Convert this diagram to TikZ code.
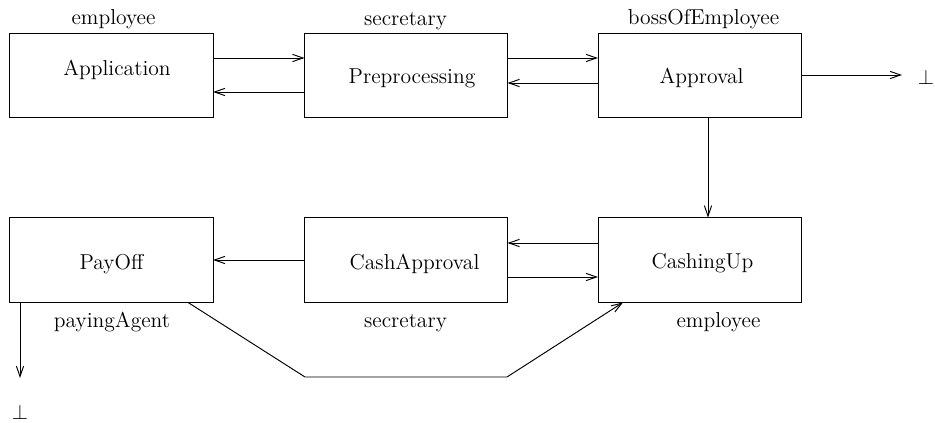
\documentclass[tikz,border=0pt]{standalone}
\usetikzlibrary{arrows.meta,calc}
\begin{document}
\begin{tikzpicture}[x=0.524pt,y=-0.524pt,
  box/.style={draw,line width=0.5pt,minimum width=106.4pt,minimum height=44.5pt,inner sep=0pt,outer sep=0pt},
  txt/.style={inner sep=0pt,anchor=base,font=\fontsize{11.3pt}{13.6pt}\selectfont},
  flow/.style={line width=0.5pt,-{Straight Barb[length=5.5pt,width=3.8pt]}}]
\useasboundingbox (0,0) rectangle (935,423);

% activity boxes
\node[box] (app)  at (111.5,75.5) {};
\node[box] (pre)  at (406,75.5)   {};
\node[box] (appr) at (699.5,75.5) {};
\node[box] (pay)  at (111.5,260)  {};
\node[box] (capp) at (406,260)    {};
\node[box] (cup)  at (699.5,260)  {};

% box titles (placed by baseline)
\node[txt] at (117,76)   {Application};
\node[txt] at (412,84)   {Preprocessing};
\node[txt] at (701.5,83.5) {Approval};
\node[txt] at (111.5,270) {PayOff};
\node[txt] at (414.5,270) {CashApproval};
\node[txt] at (702.5,269) {CashingUp};

% roles
\node[txt] at (113.5,25)  {employee};
\node[txt] at (405.5,25.5) {secretary};
\node[txt] at (703.5,25)  {bossOfEmployee};
\node[txt] at (112,328)   {payingAgent};
\node[txt] at (405.5,328) {secretary};
\node[txt] at (718.5,328) {employee};

% end markers and the points where the arrows stop short of them
\node[txt] (endA) at (926,85)  {$\perp$};
\node[txt] (endB) at (20,420)  {$\perp$};
\coordinate (tipA) at (902,75);
\coordinate (tipB) at (20,378);

% top row
\draw[flow] (app.east |- 0,58) -- (pre.west |- 0,58);
\draw[flow] (pre.west |- 0,92) -- (app.east |- 0,92);
\draw[flow] (pre.east |- 0,58) -- (appr.west |- 0,58);
\draw[flow] (appr.west |- 0,83) -- (pre.east |- 0,83);
\draw[flow] (appr.east |- tipA) -- (tipA);
\draw[flow] (appr.south -| 708,0) -- (cup.north -| 708,0);

% bottom row
\draw[flow] (cup.west |- 0,243) -- (capp.east |- 0,243);
\draw[flow] (capp.east |- 0,277) -- (cup.west |- 0,277);
\draw[flow] (capp.west |- 0,260) -- (pay.east |- 0,260);
\draw[flow] (pay.south -| tipB) -- (tipB);
\draw[flow] ($(pay.south east)+(-25,0)$) -- (305,377) -- (507,377) -- ($(cup.south west)+(25,0)$);
\end{tikzpicture}
\end{document}
